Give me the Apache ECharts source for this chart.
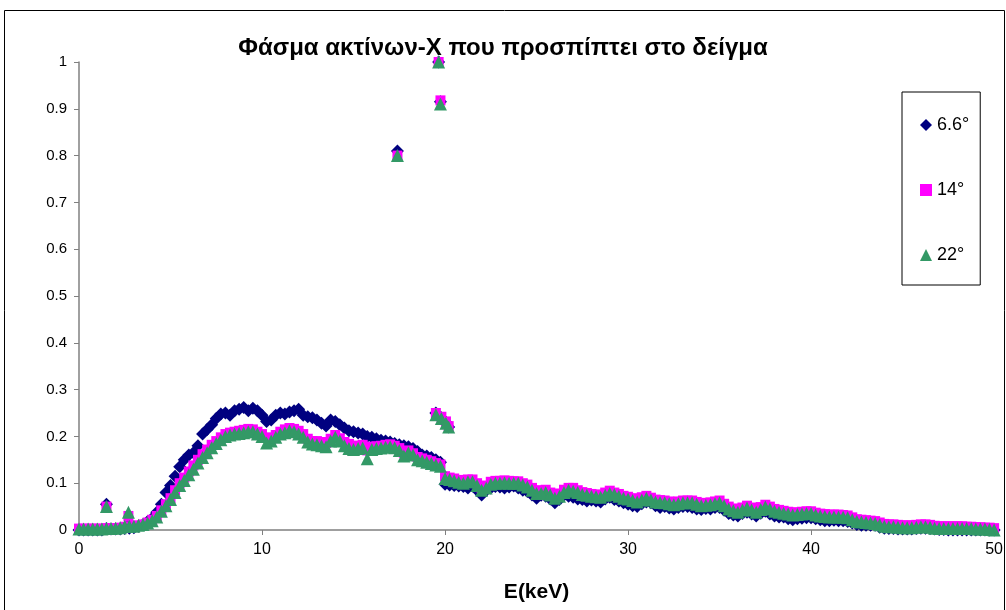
<!DOCTYPE html>
<html>
<head>
    <meta charset="utf-8">
    <title>Φάσμα ακτίνων-Χ</title>
    <script src="https://cdn.jsdelivr.net/npm/echarts@6/dist/echarts.min.js"></script>
</head>
<body style="margin:0">
    <div id="main" style="width: 1006px; height: 610px;"></div>

    <script>
        // ενέργεια (keV): κύριο πλέγμα 0, 0.5, ... 50 και ενδιάμεσα 0.25, 0.75, ... 49.75
        var energy = [];
        for (var k = 0; k <= 100; k++) energy.push(k / 2);
        var energyMid = [];
        for (var m = 0; m < 100; m++) energyMid.push(m / 2 + 0.25);

        // 6.6°
        var s66 = [0, 0, 0, 0.003, 0.002, 0.003, 0.005, 0.012, 0.025, 0.055,
            0.095, 0.135, 0.16, 0.18, 0.215, 0.238, 0.25, 0.255, 0.262, 0.26,
            0.245, 0.235, 0.25, 0.252, 0.258, 0.242, 0.235, 0.222, 0.232, 0.218,
            0.21, 0.205, 0.198, 0.192, 0.188, 0.182, 0.178, 0.168, 0.158, 0.15,
            0.098, 0.095, 0.093, 0.094, 0.075, 0.09, 0.092, 0.092, 0.09, 0.082,
            0.068, 0.072, 0.058, 0.075, 0.07, 0.065, 0.064, 0.06, 0.07, 0.062,
            0.055, 0.05, 0.06, 0.052, 0.05, 0.045, 0.05, 0.048, 0.044, 0.045,
            0.048, 0.035, 0.03, 0.038, 0.03, 0.04, 0.03, 0.028, 0.022, 0.025,
            0.026, 0.022, 0.02, 0.02, 0.018, 0.012, 0.01, 0.01, 0.004, 0.003,
            0.002, 0.002, 0.004, 0.003, 0.001, 0, 0, 0, 0, 0, 0];
        var s66Mid = [0, 0, 0, 0.002, 0.002, 0.004, 0.008, 0.018, 0.038, 0.08,
            0.115, 0.15, 0.165, 0.205, 0.225, 0.248, 0.245, 0.258, 0.255, 0.255,
            0.232, 0.245, 0.248, 0.255, 0.245, 0.24, 0.228, 0.235, 0.225, 0.212,
            0.207, 0.2, 0.195, 0.19, 0.185, 0.18, 0.174, 0.16, 0.155, 0.145,
            0.096, 0.094, 0.09, 0.085, 0.085, 0.093, 0.09, 0.094, 0.085, 0.075,
            0.074, 0.066, 0.065, 0.072, 0.066, 0.062, 0.062, 0.066, 0.065, 0.058,
            0.052, 0.056, 0.058, 0.048, 0.047, 0.048, 0.05, 0.045, 0.046, 0.048,
            0.042, 0.032, 0.035, 0.034, 0.036, 0.034, 0.028, 0.024, 0.024, 0.026,
            0.024, 0.02, 0.021, 0.02, 0.015, 0.01, 0.01, 0.006, 0.003, 0.002,
            0.002, 0.003, 0.004, 0.002, 0.001, 0, 0, 0, 0, 0];

        // 14°
        var s14 = [0.003, 0.003, 0.003, 0.004, 0.004, 0.007, 0.008, 0.012, 0.022, 0.042,
            0.068, 0.1, 0.125, 0.15, 0.172, 0.19, 0.205, 0.21, 0.214, 0.215,
            0.205, 0.195, 0.21, 0.218, 0.212, 0.195, 0.19, 0.186, 0.203, 0.188,
            0.18, 0.182, 0.178, 0.18, 0.183, 0.175, 0.17, 0.156, 0.15, 0.143,
            0.115, 0.11, 0.106, 0.108, 0.09, 0.103, 0.105, 0.105, 0.104, 0.097,
            0.084, 0.086, 0.074, 0.086, 0.09, 0.081, 0.077, 0.075, 0.084, 0.077,
            0.071, 0.066, 0.073, 0.065, 0.063, 0.059, 0.063, 0.063, 0.057, 0.059,
            0.063, 0.05, 0.043, 0.052, 0.043, 0.054, 0.045, 0.041, 0.037, 0.039,
            0.04, 0.035, 0.033, 0.033, 0.031, 0.023, 0.021, 0.019, 0.013, 0.012,
            0.01, 0.01, 0.012, 0.011, 0.008, 0.008, 0.008, 0.007, 0.006, 0.005, 0.004];
        var s14Mid = [0.003, 0.003, 0.003, 0.004, 0.005, 0.008, 0.01, 0.016, 0.03, 0.055,
            0.085, 0.112, 0.138, 0.162, 0.182, 0.198, 0.208, 0.212, 0.216, 0.21,
            0.198, 0.203, 0.215, 0.216, 0.205, 0.19, 0.188, 0.195, 0.196, 0.184,
            0.18, 0.17, 0.179, 0.182, 0.18, 0.165, 0.164, 0.153, 0.147, 0.14,
            0.112, 0.107, 0.108, 0.1, 0.095, 0.105, 0.106, 0.104, 0.1, 0.09,
            0.085, 0.08, 0.078, 0.09, 0.085, 0.079, 0.076, 0.08, 0.08, 0.073,
            0.068, 0.07, 0.069, 0.064, 0.061, 0.061, 0.063, 0.06, 0.058, 0.061,
            0.056, 0.046, 0.048, 0.048, 0.049, 0.05, 0.043, 0.039, 0.038, 0.04,
            0.037, 0.034, 0.033, 0.032, 0.027, 0.022, 0.02, 0.016, 0.012, 0.011,
            0.01, 0.011, 0.012, 0.009, 0.008, 0.008, 0.008, 0.007, 0.006, 0.005];

        // 22°
        var s22 = [0.002, 0.002, 0.002, 0.003, 0.004, 0.008, 0.008, 0.012, 0.02, 0.04,
            0.065, 0.095, 0.118, 0.143, 0.165, 0.185, 0.2, 0.205, 0.208, 0.21,
            0.2, 0.19, 0.205, 0.212, 0.205, 0.188, 0.182, 0.178, 0.198, 0.18,
            0.172, 0.175, 0.172, 0.175, 0.178, 0.17, 0.165, 0.15, 0.145, 0.139,
            0.11, 0.105, 0.1, 0.103, 0.085, 0.098, 0.1, 0.1, 0.1, 0.092,
            0.078, 0.08, 0.068, 0.08, 0.083, 0.076, 0.072, 0.07, 0.078, 0.072,
            0.066, 0.06, 0.068, 0.06, 0.058, 0.054, 0.058, 0.058, 0.052, 0.054,
            0.058, 0.045, 0.038, 0.047, 0.038, 0.049, 0.04, 0.036, 0.032, 0.034,
            0.035, 0.03, 0.028, 0.028, 0.026, 0.018, 0.016, 0.014, 0.008, 0.007,
            0.005, 0.005, 0.007, 0.006, 0.003, 0.003, 0.003, 0.003, 0.002, 0.002, 0];
        var s22Mid = [0.002, 0.002, 0.002, 0.003, 0.005, 0.008, 0.01, 0.015, 0.028, 0.052,
            0.08, 0.106, 0.13, 0.155, 0.176, 0.193, 0.203, 0.206, 0.21, 0.205,
            0.186, 0.198, 0.208, 0.21, 0.198, 0.184, 0.18, 0.19, 0.19, 0.174,
            0.174, 0.152, 0.174, 0.177, 0.176, 0.158, 0.16, 0.148, 0.142, 0.136,
            0.108, 0.102, 0.103, 0.095, 0.09, 0.1, 0.101, 0.1, 0.096, 0.085,
            0.078, 0.075, 0.072, 0.085, 0.08, 0.074, 0.071, 0.074, 0.076, 0.068,
            0.063, 0.064, 0.064, 0.059, 0.056, 0.056, 0.058, 0.055, 0.053, 0.056,
            0.052, 0.041, 0.043, 0.043, 0.044, 0.045, 0.038, 0.034, 0.033, 0.035,
            0.032, 0.029, 0.028, 0.027, 0.022, 0.017, 0.015, 0.011, 0.007, 0.006,
            0.005, 0.006, 0.007, 0.004, 0.003, 0.003, 0.003, 0.003, 0.002, 0.001];

        // χαρακτηριστικές γραμμές / ακμή
        var peakE = [1.5, 2.7, 17.4, 19.65, 19.75, 19.5, 19.8, 20.05, 20.2];
        var peak66 = [0.055, 0.01, 0.81, 1.0, 0.915, 0.25, 0.24, 0.23, 0.22];
        var peak14 = [0.05, 0.03, 0.8, 1.0, 0.918, 0.25, 0.242, 0.232, 0.222];
        var peak22 = [0.05, 0.038, 0.8, 1.0, 0.91, 0.246, 0.238, 0.228, 0.22];

        function pairs(vals, mid, pv) {
            var d = [];
            for (var i = 0; i < energy.length; i++) d.push([energy[i], vals[i]]);
            for (var n = 0; n < energyMid.length; n++) d.push([energyMid[n], mid[n]]);
            for (var j = 0; j < peakE.length; j++) d.push([peakE[j], pv[j]]);
            return d;
        }

        var myChart = echarts.init(document.getElementById('main'));
        var lblFont = 'Liberation Sans, Arial, sans-serif';

        var option = {
            animation: false,
            backgroundColor: '#fff',
            title: {
                text: 'Φάσμα ακτίνων-Χ που προσπίπτει στο δείγμα',
                left: 'center',
                top: 31,
                textStyle: { fontFamily: lblFont, fontSize: 24, fontWeight: 'bold', color: '#000' }
            },
            graphic: [{
                type: 'rect',
                shape: { x: 4.5, y: 10.5, width: 1000, height: 620 },
                style: { fill: 'none', stroke: '#000', lineWidth: 1 },
                silent: true
            }],
            legend: {
                orient: 'vertical',
                left: 902,
                top: 92,
                padding: [24, 11, 21, 18],
                itemGap: 47,
                itemWidth: 12,
                itemHeight: 12,
                borderColor: '#000',
                borderWidth: 1,
                textStyle: { fontFamily: lblFont, fontSize: 18, color: '#000' },
                data: [
                    { name: '6.6°', icon: 'diamond' },
                    { name: '14°', icon: 'rect' },
                    { name: '22°', icon: 'triangle' }
                ]
            },
            grid: { left: 79, right: 10, top: 62, bottom: 80 },
            xAxis: {
                type: 'value',
                min: 0, max: 50, interval: 10,
                name: 'E(keV)',
                nameLocation: 'middle',
                nameGap: 52,
                nameTextStyle: { fontFamily: lblFont, fontSize: 21, fontWeight: 'bold', color: '#000' },
                axisLine: { lineStyle: { color: '#808080', width: 1.5 } },
                axisTick: { lineStyle: { color: '#808080' }, length: 5 },
                axisLabel: { fontFamily: lblFont, fontSize: 16, color: '#000', margin: 12 },
                splitLine: { show: false }
            },
            yAxis: {
                type: 'value',
                min: 0, max: 1, interval: 0.1,
                axisLine: { show: true, lineStyle: { color: '#808080', width: 1.5 } },
                axisTick: { show: true, lineStyle: { color: '#808080' }, length: 5 },
                axisLabel: { fontFamily: lblFont, fontSize: 15, color: '#000', margin: 12 },
                splitLine: { show: false }
            },
            series: [
                {
                    name: '6.6°', type: 'scatter', symbol: 'diamond', symbolSize: 13,
                    itemStyle: { color: '#000080', opacity: 1 },
                    data: pairs(s66, s66Mid, peak66)
                },
                {
                    name: '14°', type: 'scatter', symbol: 'rect', symbolSize: 10,
                    itemStyle: { color: '#FF00FF', opacity: 1 },
                    data: pairs(s14, s14Mid, peak14)
                },
                {
                    name: '22°', type: 'scatter', symbol: 'triangle', symbolSize: 13,
                    itemStyle: { color: '#339966', opacity: 1 },
                    data: pairs(s22, s22Mid, peak22)
                }
            ]
        };

        myChart.setOption(option);
    </script>
</body>
</html>
